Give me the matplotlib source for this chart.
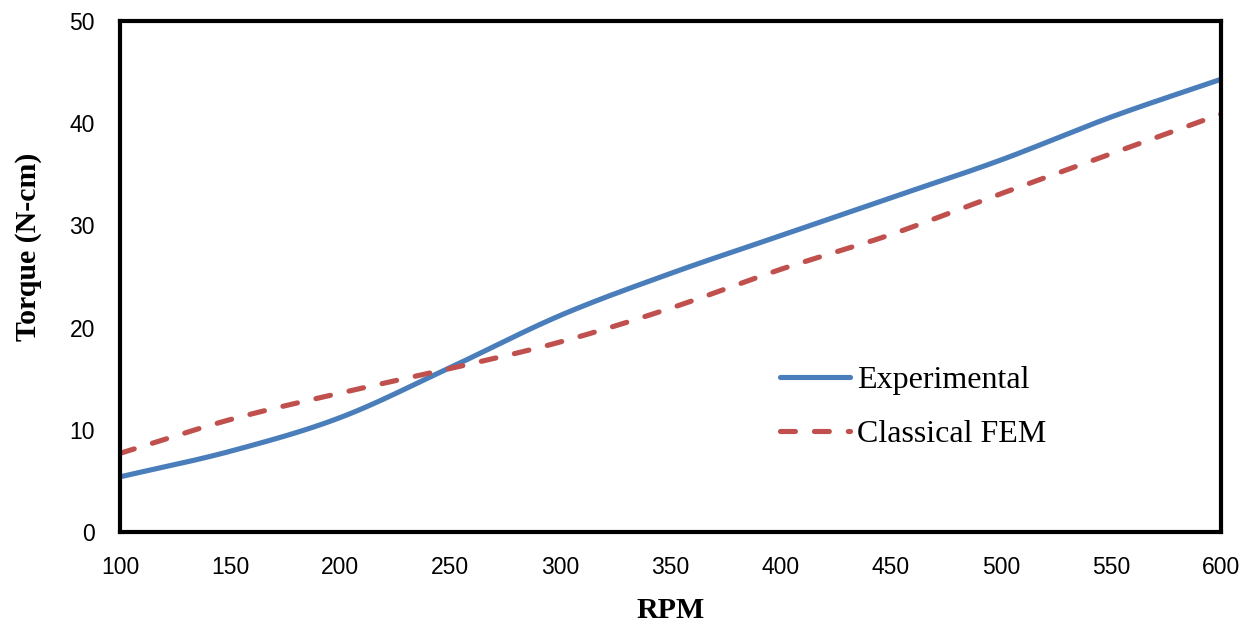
import numpy as np
import matplotlib
matplotlib.use("Agg")
import matplotlib.pyplot as plt

# Torque vs speed measurements
rpm = [100, 150, 200, 250, 300, 350, 400, 450, 500, 550, 600]
torque_experimental = [5.4, 7.9, 11.2, 16.1, 21.2, 25.3, 29.0, 32.7, 36.4, 40.6, 44.3]
torque_fem = [7.7, 11.0, 13.6, 16.0, 18.6, 21.9, 25.7, 29.1, 33.1, 37.0, 40.9]

x_ticks = [100, 150, 200, 250, 300, 350, 400, 450, 500, 550, 600]
y_ticks = [0, 10, 20, 30, 40, 50]


def smooth(xs, ys, n=40):
    """Catmull-Rom curve through the given points (spreadsheet-style smoothed line)."""
    xs = np.asarray(xs, float)
    ys = np.asarray(ys, float)
    px = np.concatenate([[2 * xs[0] - xs[1]], xs, [2 * xs[-1] - xs[-2]]])
    py = np.concatenate([[2 * ys[0] - ys[1]], ys, [2 * ys[-1] - ys[-2]]])
    outx, outy = [], []
    t = np.linspace(0, 1, n, endpoint=False)
    for i in range(1, len(px) - 2):
        for arr, out in ((px, outx), (py, outy)):
            p0, p1, p2, p3 = arr[i - 1], arr[i], arr[i + 1], arr[i + 2]
            c1 = p1 + (p2 - p0) / 6
            c2 = p2 - (p3 - p1) / 6
            out.extend((1 - t) ** 3 * p1 + 3 * (1 - t) ** 2 * t * c1
                       + 3 * (1 - t) * t ** 2 * c2 + t ** 3 * p2)
    outx.append(xs[-1])
    outy.append(ys[-1])
    return np.array(outx), np.array(outy)


fig = plt.figure(figsize=(12.54, 6.24), dpi=100)
ax = fig.add_axes([0.0957, 0.1474, 0.8780, 0.8189])

blue = "#4a7ebb"
red = "#c0504d"

sx, sy = smooth(rpm, torque_experimental)
ax.plot(sx, sy, color=blue, lw=3.7, solid_capstyle="round", label="Experimental")
fx, fy = smooth(rpm, torque_fem)
ax.plot(fx, fy, color=red, lw=3.7, dashes=(2.9, 3.7), dash_capstyle="round",
        label="Classical FEM")

ax.set_xlim(100, 600)
ax.set_ylim(0, 50)
ax.set_xticks(x_ticks)
ax.set_yticks(y_ticks)
ax.tick_params(length=0, labelsize=16.5)
ax.tick_params(axis="x", pad=17)
ax.tick_params(axis="y", pad=18)
for lab in ax.get_xticklabels() + ax.get_yticklabels():
    lab.set_fontfamily("Liberation Sans")

for sp in ax.spines.values():
    sp.set_linewidth(3)
    sp.set_color("black")

ax.set_xlabel("RPM", fontfamily="Liberation Serif", fontweight="bold",
              fontsize=21.5, labelpad=13)
ax.set_ylabel("Torque (N-cm)", fontfamily="Liberation Serif", fontweight="bold",
              fontsize=21.5)
ax.yaxis.set_label_coords(-0.0709, 0.558)

leg = ax.legend(loc="upper left", bbox_to_anchor=(0.5995, 0.326), frameon=False,
                prop={"family": "Liberation Serif", "size": 23},
                borderpad=0, borderaxespad=0,
                handlelength=2.2, handletextpad=0.2, labelspacing=0.77)

fig.savefig("out.png", dpi=100)
